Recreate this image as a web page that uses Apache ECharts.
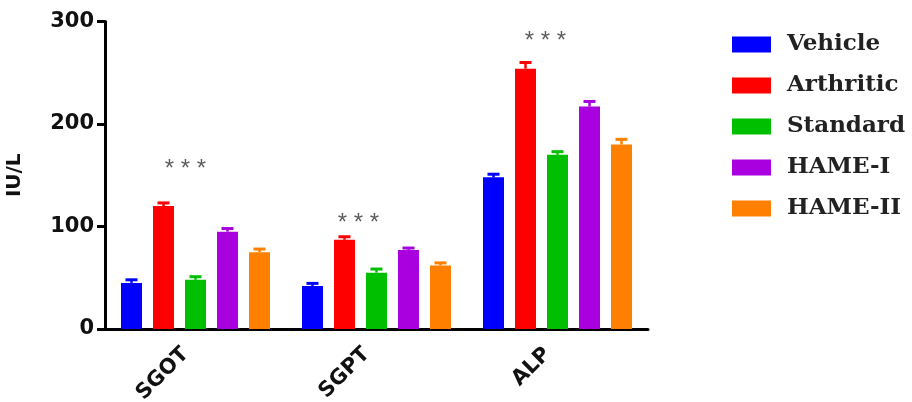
<!DOCTYPE html>
<html>
<head>
<meta charset="utf-8">
<script src="https://cdn.jsdelivr.net/npm/echarts@6/dist/echarts.min.js"></script>
<style>html,body{margin:0;padding:0;background:#fff}#c{width:912px;height:402px}</style>
</head>
<body>
<div id="c"></div>
<script>
const categories = ['SGOT', 'SGPT', 'ALP'];
const groupNames = ['Vehicle', 'Arthritic', 'Standard', 'HAME-I', 'HAME-II'];
const vehicle   = [45, 42, 148];
const arthritic = [120, 87, 254];
const standard  = [48, 55, 170];
const hame1     = [95, 77, 217];
const hame2     = [75, 62, 180];
const vehicleErr   = [3, 2.5, 3];
const arthriticErr = [3, 3, 6];
const standardErr  = [3, 3.5, 3];
const hame1Err     = [3, 2, 5];
const hame2Err     = [3, 2.5, 5];
const starValues = [156, 103, 281];
const starLabel = '* * *';
const yTicks = [0, 100, 200, 300];

const colors = ['#0000FF', '#FF0000', '#00BF00', '#A800DE', '#FF8000'];
const means = [vehicle, arthritic, standard, hame1, hame2];
const errs = [vehicleErr, arthriticErr, standardErr, hame1Err, hame2Err];
const barW = 21, barGapPx = 11;
const starOffsets = [-10, -18, -12];

const series = [];
means.forEach((vals, i) => {
  series.push({
    name: groupNames[i], type: 'bar', data: vals,
    barWidth: barW, barGap: (barGapPx / barW * 100) + '%',
    itemStyle: { color: colors[i] }, z: 2
  });
});
means.forEach((vals, i) => {
  const offset = (i - 2) * (barW + barGapPx);
  series.push({
    name: 'err' + i, type: 'custom', z: 3,
    data: vals.map((v, k) => [k, v, errs[i][k]]),
    renderItem: function (params, api) {
      const base = api.coord([api.value(0), api.value(1)]);
      const top = api.coord([api.value(0), api.value(1) + api.value(2)]);
      const x = base[0] + offset;
      return {
        type: 'group', children: [
          { type: 'line', shape: { x1: x, y1: base[1], x2: x, y2: top[1] }, style: { stroke: colors[i], lineWidth: 2.5 } },
          { type: 'line', shape: { x1: x - 6, y1: top[1], x2: x + 6, y2: top[1] }, style: { stroke: colors[i], lineWidth: 3 } }
        ]
      };
    }
  });
});
series.push({
  name: 'stars', type: 'scatter', symbolSize: 0, z: 4,
  data: starValues.map((v, k) => ({
    value: [k, v],
    label: { offset: [starOffsets[k], 0] }
  })),
  label: {
    show: true, position: 'inside', formatter: starLabel,
    fontFamily: 'Liberation Sans, Arial', fontSize: 24, color: '#333'
  }
});

const chart = echarts.init(document.getElementById('c'), null, { renderer: 'canvas' });
chart.setOption({
  animation: false,
  backgroundColor: '#fff',
  grid: { left: 105, top: 21.5, width: 543, bottom: 73, containLabel: false, outerBoundsMode: 'none' },
  legend: {
    data: groupNames, orient: 'vertical', left: 727, top: 27,
    icon: 'rect', itemWidth: 39, itemHeight: 16, itemGap: 16,
    textStyle: { fontFamily: 'DejaVu Serif', fontWeight: 'bold', fontSize: 23, lineHeight: 25, color: '#222', padding: [0, 0, 0, 11] }
  },
  xAxis: {
    type: 'category', data: categories,
    axisLine: { lineStyle: { color: '#000', width: 3 } },
    axisTick: { alignWithLabel: true, length: 8, lineStyle: { color: '#000', width: 3 } },
    axisLabel: { rotate: 45, margin: 12, padding: [0, 14, 0, 0], fontFamily: 'DejaVu Sans', fontWeight: 'bold', fontSize: 21, color: '#111' }
  },
  yAxis: {
    type: 'value', min: 0, max: 300, interval: 100,
    name: 'IU/L', nameLocation: 'middle', nameRotate: 90, nameGap: 80,
    nameTextStyle: { fontFamily: 'DejaVu Sans', fontWeight: 'bold', fontSize: 20, color: '#111' },
    axisLine: { show: true, lineStyle: { color: '#000', width: 3 } },
    axisTick: { show: true, length: 8, lineStyle: { color: '#000', width: 3 } },
    axisLabel: { margin: 11, fontFamily: 'DejaVu Sans', fontWeight: 'bold', fontSize: 21, color: '#111',
      formatter: v => yTicks.includes(v) ? String(v) : '' },
    splitLine: { show: false }
  },
  series: series
});
</script>
</body>
</html>
